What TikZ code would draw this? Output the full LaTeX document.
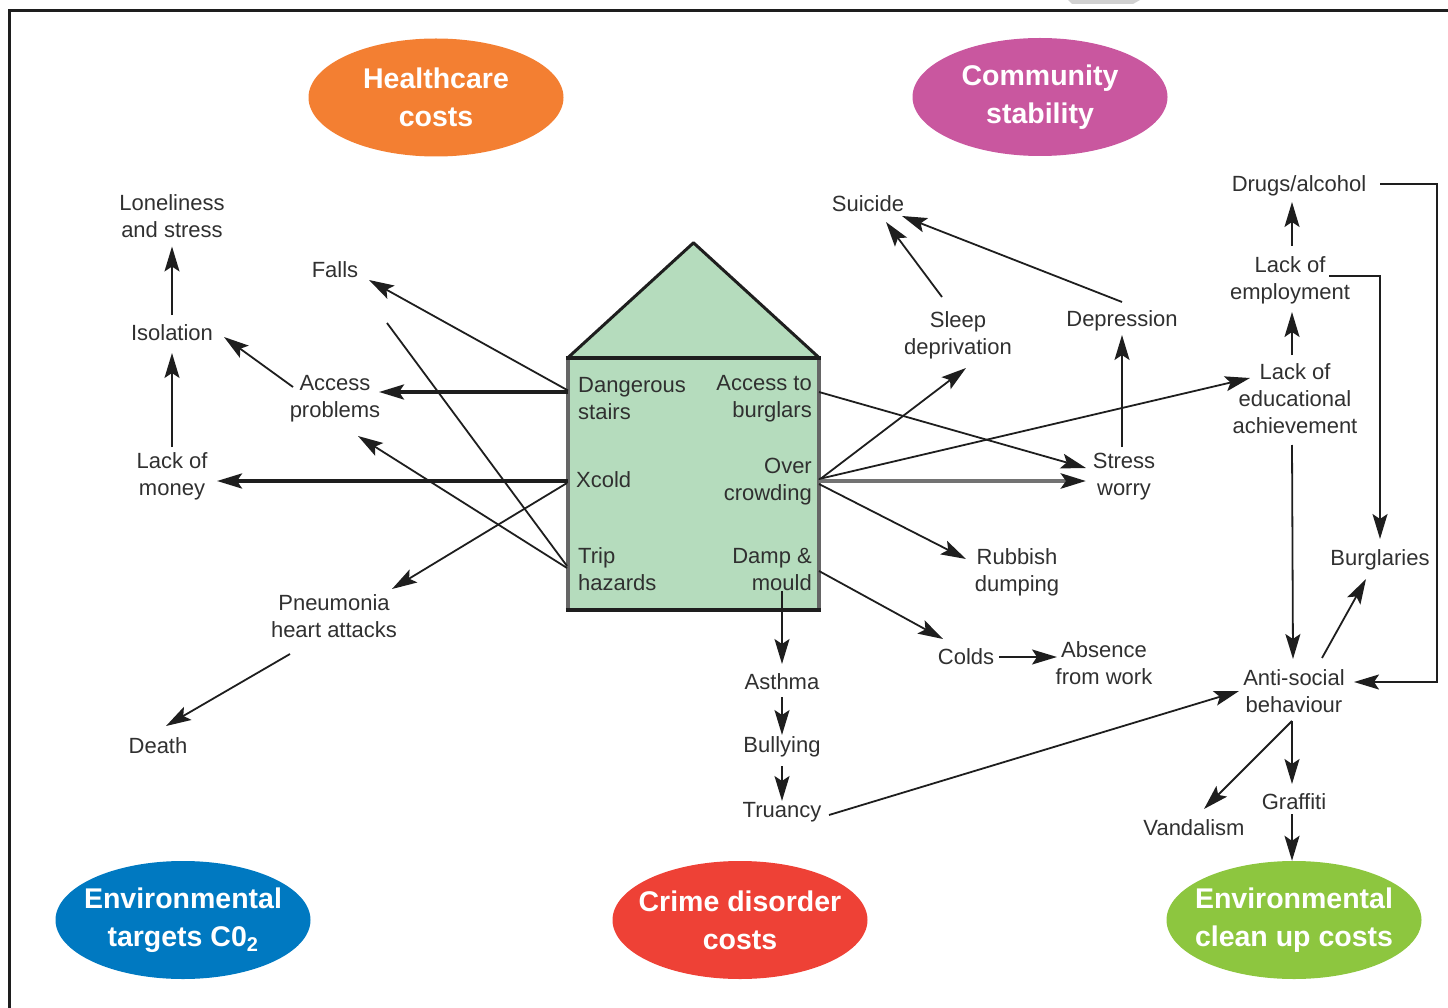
\documentclass[tikz,border=0pt]{standalone}
\usepackage{fontspec}
\setmainfont{Liberation Sans}
\usetikzlibrary{arrows.meta,shapes.geometric,calc}
\definecolor{hcol}{HTML}{F37F32}
\definecolor{ccol}{HTML}{C9579F}
\definecolor{bcol}{HTML}{0079C1}
\definecolor{rcol}{HTML}{EE4136}
\definecolor{gcol}{HTML}{8DC63F}
\definecolor{housefill}{HTML}{B5DCBD}
\definecolor{txtc}{HTML}{303030}
\definecolor{linec}{HTML}{1E1E1E}
\newcommand\mylbl{\fontsize{22}{27}\selectfont}
\newcommand\myell{\bfseries\fontsize{28.5}{38}\selectfont}
\begin{document}
\begin{tikzpicture}[x=1pt,y=-1pt,
  lbl/.style={font=\mylbl, text=txtc, align=center, inner sep=0pt},
  hl/.style={font=\mylbl, text=txtc, inner sep=0pt},
  ell/.style={ellipse, minimum width=255pt, minimum height=118pt, inner xsep=-45pt, inner ysep=-25pt, text=white, font=\myell, align=center},
  arr/.style={draw=linec, line width=1.8pt, -{Stealth[length=25pt,width=15pt,inset=5pt]}},
  tarr/.style={arr, line width=3.5pt},
  garr/.style={draw=black!55, line width=4.5pt, -{Stealth[length=25pt,width=15pt,inset=5pt,color=linec]}},
  ln/.style={draw=linec, line width=1.8pt}]
\useasboundingbox (0,0) rectangle (1448,1008);
% frame
\fill[black!18] (1068,0) -- (1140,0) -- (1133,4) -- (1072,4) -- cycle;
\draw[linec, line width=3pt] (1448,11) -- (9,11) -- (9,1008);

% ellipses
\node[ell, fill=hcol] (hc) at (436,97.5) {Healthcare\\costs};
\node[ell, fill=ccol] (cs) at (1040,97) {Community\\stability};
\node[ell, fill=bcol] (env1) at (183,920) {Environmental\\targets C0\textsubscript{2}};
\node[ell, fill=rcol] (crime) at (740,920) {Crime disorder\\costs};
\node[ell, fill=gcol] (env3) at (1294,920) {Environmental\\clean up costs};

% house
\node[minimum width=251pt, minimum height=252pt, inner sep=0pt, fill=housefill] (house) at (693.5,484) {};
\fill[housefill] (house.north west) -- ($(house.north)+(0,-115)$) -- (house.north east) -- cycle;
\draw[linec, line width=3pt, line join=round] (house.north west) -- ($(house.north)+(0,-115)$) -- (house.north east);
\draw[black!60, line width=4pt] (house.north west) -- (house.south west);
\draw[black!60, line width=4pt] (house.north east) -- (house.south east);
\draw[linec, line width=4pt] ($(house.north west)+(-2,0)$) -- ($(house.north east)+(2,0)$);
\draw[linec, line width=4pt] ($(house.south west)+(-2,0)$) -- ($(house.south east)+(2,0)$);

\node[hl, anchor=west, align=left] (ds) at (578,398.5) {Dangerous\\stairs};
\node[hl, anchor=east, align=right] (ab) at (812,398.5) {Access to\\burglars};
\node[hl, anchor=west] (xc) at (576,480) {Xcold};
\node[hl, anchor=east, align=right] (oc) at (812,482) {Over\\crowding};
\node[hl, anchor=west, align=left] (th) at (578,569.5) {Trip\\hazards};
\node[hl, anchor=east, align=right] (dm) at (812,569.5) {Damp \&\\mould};

% labels
\node[lbl] (lon) at (172,216.5) {Loneliness\\and stress};
\node[lbl] (iso) at (172,333) {Isolation};
\node[lbl] (mon) at (172,476) {Lack of\\money};
\node[lbl] (fal) at (335,270) {Falls};
\node[lbl] (acc) at (335,399) {Access\\problems};
\node[lbl] (pne) at (334,616) {Pneumonia\\heart attacks};
\node[lbl] (dea) at (158,746) {Death};
\node[lbl] (sui) at (868,204) {Suicide};
\node[lbl] (sle) at (958,335) {Sleep\\deprivation};
\node[lbl] (dep) at (1122,321) {Depression};
\node[lbl] (str) at (1124,477) {Stress\\worry};
\node[lbl] (rub) at (1017,572) {Rubbish\\dumping};
\node[lbl] (dru) at (1299,186) {Drugs/alcohol};
\node[lbl] (emp) at (1290,280) {Lack of\\employment};
\node[lbl] (edu) at (1295,399) {Lack of\\educational\\achievement};
\node[lbl] (bur) at (1380,560) {Burglaries};
\node[lbl] (ant) at (1294,691) {Anti-social\\behaviour};
\node[lbl] (col) at (966,657) {Colds};
\node[lbl] (abs) at (1104,663) {Absence\\from work};
\node[lbl] (ast) at (782,682) {Asthma};
\node[lbl] (bul) at (782,747) {Bullying};
\node[lbl] (tru) at (782,812) {Truancy};
\node[lbl] (van) at (1194,828) {Vandalism};
\node[lbl] (gra) at (1294,802) {Graffiti};

% connectors
\draw[arr] ($(iso)+(0,-18)$) -- ($(lon)+(0,30)$);
\draw[arr] ($(mon)+(0,-29)$) -- ($(iso)+(0,20)$);
\draw[arr] ($(acc)+(-42,-12)$) -- ($(iso)+(52,4)$);
\draw[arr] ($(ds.west)+(-10,-8)$) -- ($(fal)+(34,10)$);
\draw[tarr] ($(ds.west)+(-10,-6.5)$) -- ($(acc)+(44,-7)$);
\draw[tarr] ($(xc.west)+(-8,1)$) -- ($(mon)+(45,5)$);
\draw[arr] ($(th.west)+(-11,-1.5)$) -- ($(acc)+(23,37)$);
\draw[ln] ($(th.west)+(-11,-3.5)$) -- ($(fal)+(52,53)$);
\draw[arr] ($(xc.west)+(-9,3)$) -- ($(pne)+(58,-27)$);
\draw[arr] ($(pne)+(-44,38)$) -- ($(dea)+(8,-20)$);
\draw[arr] ($(oc.east)+(7,-2)$) -- ($(sle)+(8,33)$);
\draw[arr] ($(sle)+(-16,-38)$) -- ($(sui)+(18,18)$);
\draw[arr] ($(dep)+(0,-19)$) -- ($(sui)+(34,12)$);
\draw[arr] ($(str)+(-2,-30)$) -- ($(dep)+(0,14)$);
\draw[arr] ($(ab.east)+(7,-6.5)$) -- ($(str)+(-38,-9)$);
\draw[garr] ($(oc.east)+(7,-1)$) -- ($(str)+(-38,4)$);
\draw[arr] ($(oc.east)+(7,-3)$) -- ($(edu)+(-45,-21)$);
\draw[arr] ($(oc.east)+(7,2)$) -- ($(rub)+(-51,-13)$);
\draw[arr] ($(dm.east)+(7,1.5)$) -- ($(col)+(-23,-18)$);
\draw[arr] (ast |- dm.south) -- ($(ast)+(0,-18)$);
\draw[arr] ($(col)+(33,0)$) -- ($(abs)+(-47,-6)$);
\draw[arr] ($(ast)+(0,15)$) -- ($(bul)+(0,-12)$);
\draw[arr] ($(bul)+(0,19)$) -- ($(tru)+(0,-11)$);
\draw[arr] ($(tru)+(47,3)$) -- ($(ant)+(-55,0)$);
\draw[arr] ($(emp)+(2,-34)$) -- ($(dru)+(-7,16)$);
\draw[arr] ($(edu)+(-3,-44)$) -- ($(emp)+(2,32)$);
\draw[arr] ($(edu)+(-3,46)$) -- ($(ant)+(-1,-32)$);
\draw[arr] ($(emp)+(39,-4)$) -| ($(bur)+(0,-21)$);
\draw[arr] ($(dru)+(81,-2)$) -- ++(57,0) |- ($(ant)+(60,-9)$);
\draw[arr] ($(ant)+(28,-33)$) -- ($(bur)+(-14,19)$);
\draw[arr] ($(ant)+(-2,30)$) -- ($(van)+(10,-19)$);
\draw[arr] ($(ant)+(-2,30)$) -- ($(gra)+(-2,-18)$);
\draw[arr] ($(gra)+(-2,12)$) -- ($(env3.north)+(-2,0)$);
\end{tikzpicture}
\end{document}
